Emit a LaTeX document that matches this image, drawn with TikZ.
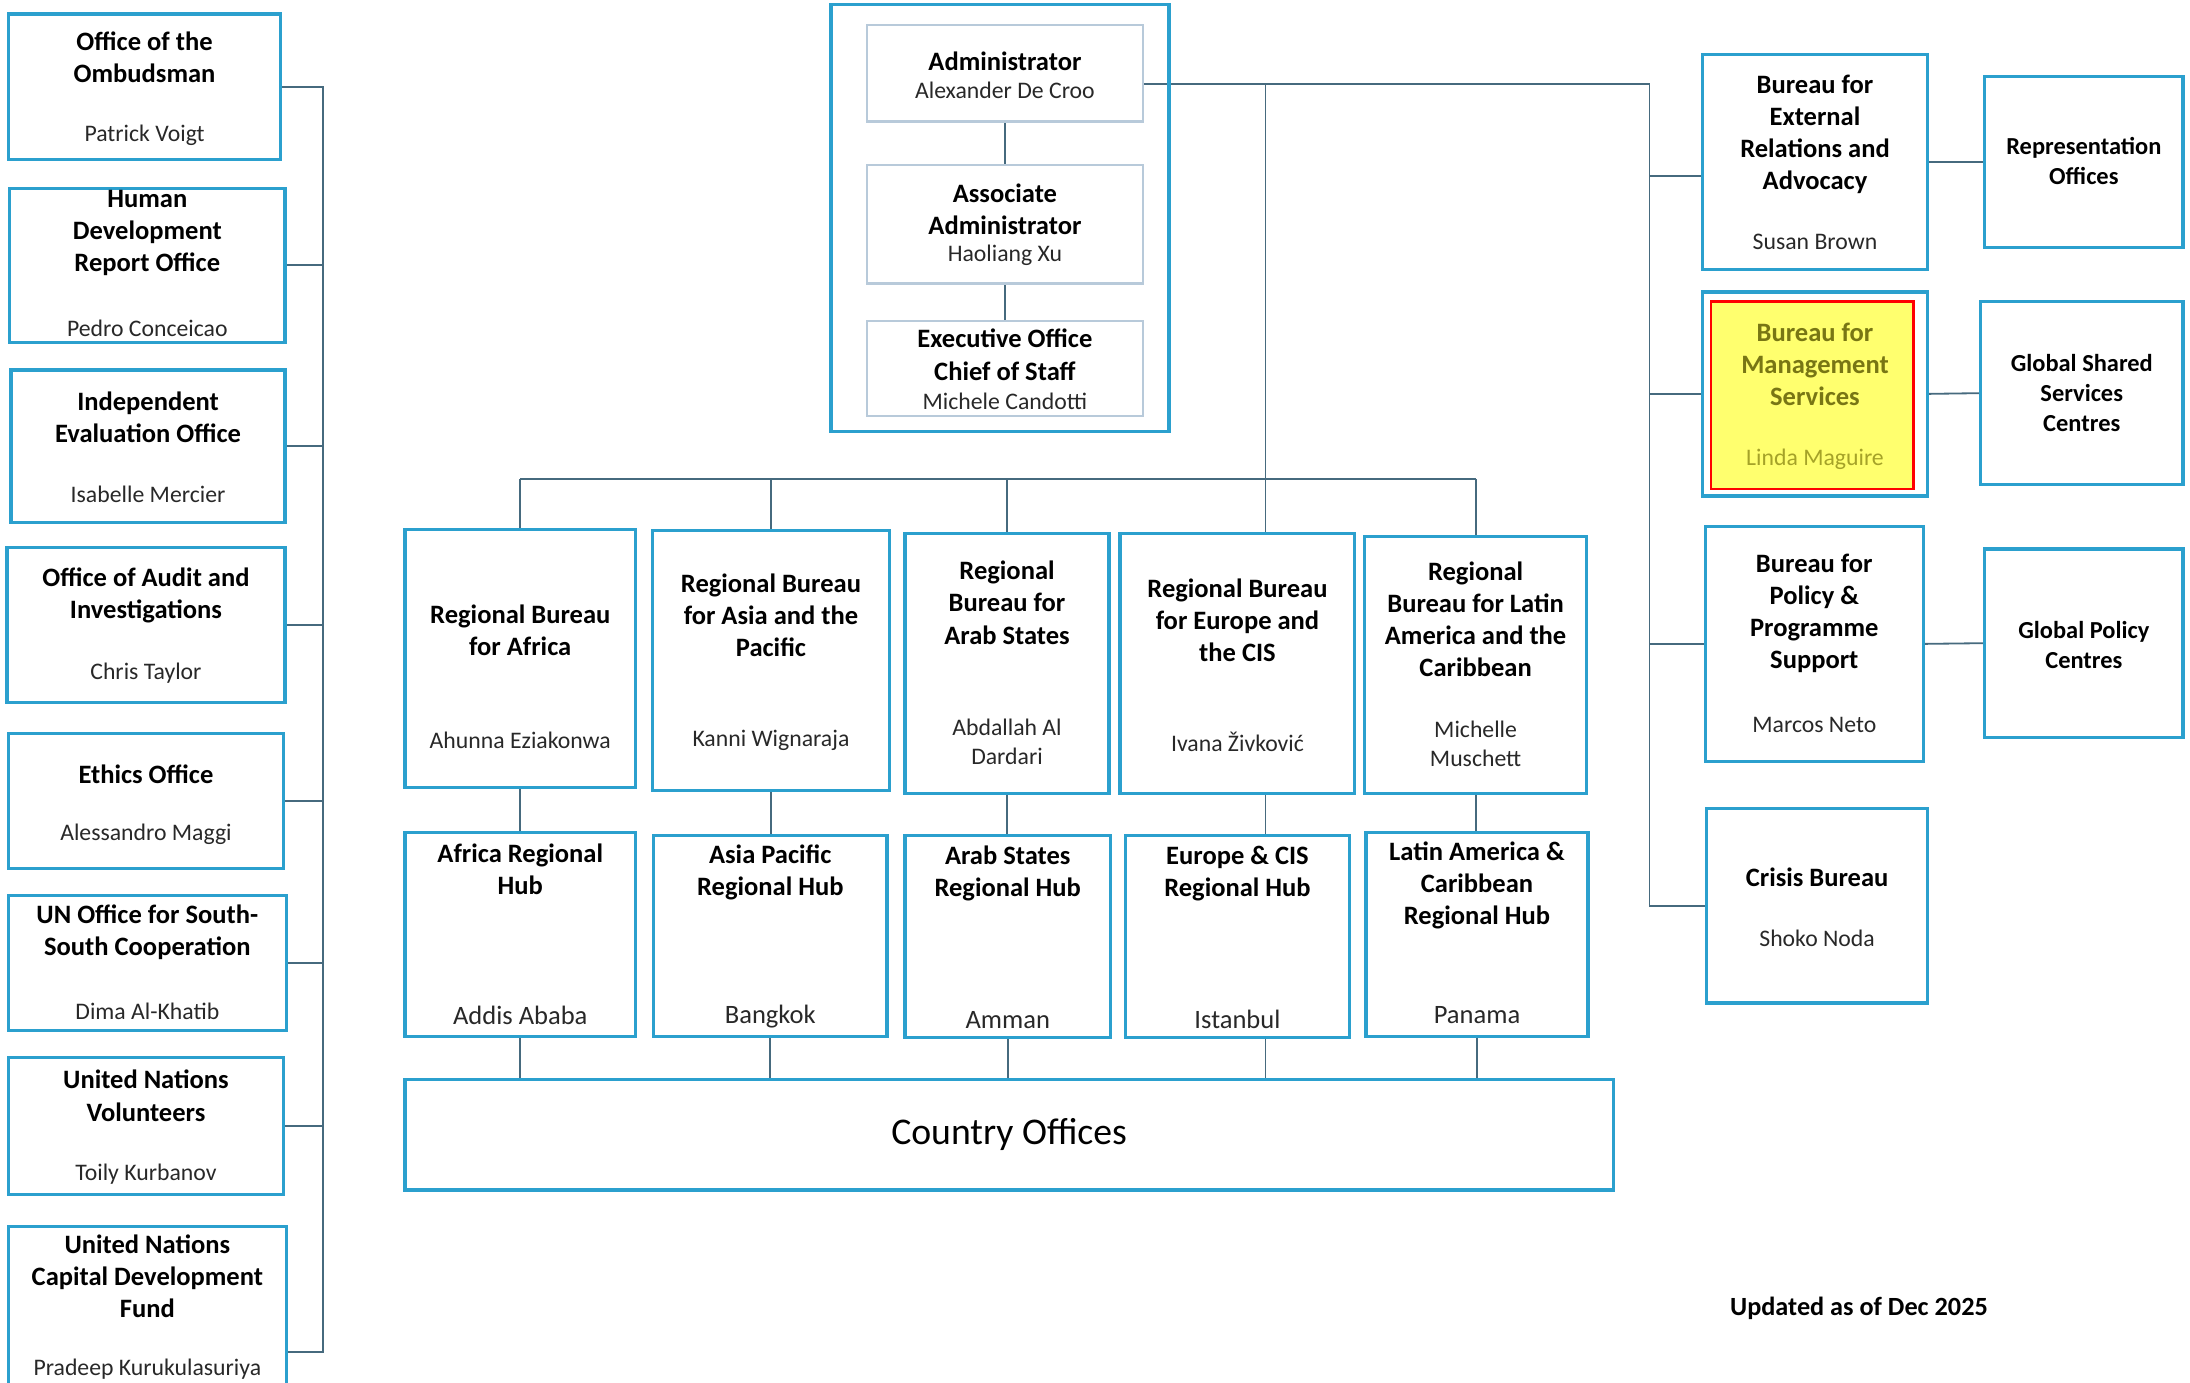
\documentclass[tikz,border=0pt]{standalone}
\usepackage{fontspec}
\setmainfont{Carlito}
\usetikzlibrary{backgrounds}

\definecolor{unblue}{RGB}{43,160,206}
\definecolor{linkgray}{RGB}{70,106,126}
\definecolor{paleblue}{RGB}{184,202,218}
\definecolor{hlyellow}{RGB}{255,255,110}
\definecolor{olivetext}{RGB}{120,118,20}
\definecolor{olivename}{RGB}{165,162,40}
\definecolor{namegray}{RGB}{40,40,40}

\begin{document}
\begin{tikzpicture}[x=1pt, y=-1pt,
  unit/.style={draw=unblue, line width=2.4pt, inner sep=0pt},
  inner/.style={draw=paleblue, line width=1.6pt, inner sep=0pt},
  sz/.style 2 args={minimum width=#1pt, minimum height=#2pt},
  link/.style={draw=linkgray, line width=1.3pt},
  ttl/.style={align=center, font=\bfseries\fontsize{19}{23}\selectfont},
  ttlsm/.style={align=center, font=\bfseries\fontsize{17.5}{21.5}\selectfont},
  who/.style={align=center, text=namegray, font=\fontsize{17}{20.5}\selectfont},
  city/.style={text=namegray, font=\fontsize{19}{23}\selectfont}]

  \useasboundingbox (0,0) rectangle (1568,990);

  % Left column: independent offices
  \node[unit, sz={195}{104}] (ombud) at (103.5,62) {};
  \node[ttl] (ombud-t) at (103.5,41) {Office of the\\Ombudsman};
  \node[who] (ombud-n) at (103.5,97) {Patrick Voigt};

  \node[unit, sz={197}{110}] (hdro) at (105.5,190) {};
  \node[ttl] (hdro-t) at (105.5,167) {Human\\Development\\Report Office};
  \node[who] (hdro-n) at (105.5,235) {Pedro Conceicao};

  \node[unit, sz={196}{109}] (ieo) at (106,319.5) {};
  \node[ttl] (ieo-t) at (106,298.5) {Independent\\Evaluation Office};
  \node[who] (ieo-n) at (106,354) {Isabelle Mercier};

  \node[unit, sz={199}{111}] (oai) at (104.5,447.5) {};
  \node[ttl] (oai-t) at (104.5,426.5) {Office of Audit and\\Investigations};
  \node[who] (oai-n) at (104.5,482) {Chris Taylor};

  \node[unit, sz={197}{97}] (ethics) at (104.5,573.5) {};
  \node[ttl] (ethics-t) at (104.5,554) {Ethics Office};
  \node[who] (ethics-n) at (104.5,597) {Alessandro Maggi};

  \node[unit, sz={199}{97}] (ssc) at (105.5,689.5) {};
  \node[ttl] (ssc-t) at (105.5,667.5) {UN Office for South-\\South Cooperation};
  \node[who] (ssc-n) at (105.5,724) {Dima Al-Khatib};

  \node[unit, sz={197}{98}] (unv) at (104.5,806) {};
  \node[ttl] (unv-t) at (104.5,784.5) {United Nations\\Volunteers};
  \node[who] (unv-n) at (104.5,841) {Toily Kurbanov};

  \node[unit, sz={199}{118}] (uncdf) at (105.5,937) {};
  \node[ttl] (uncdf-t) at (105.5,914) {United Nations\\Capital Development\\Fund};
  \node[who] (uncdf-n) at (105.5,980) {Pradeep Kurukulasuriya};

  % Executive office block
  \node[unit, sz={242}{306}] (execbox) at (716,156) {};
  \node[inner, sz={198}{69}] (admin) at (719.5,52.5) {};
  \node[ttl] (admin-t) at (719.5,44) {Administrator};
  \node[who] (admin-n) at (719.5,65) {Alexander De Croo};

  \node[inner, sz={198}{85}] (assoc) at (719.5,160.5) {};
  \node[ttl] (assoc-t) at (719.5,150) {Associate\\Administrator};
  \node[who] (assoc-n) at (719.5,183) {Haoliang Xu};

  \node[inner, sz={198}{68}] (eo) at (719.5,264) {};
  \node[ttl] (eo-t) at (719.5,254) {Executive Office\\Chief of Staff};
  \node[who] (eo-n) at (719.5,287) {Michele Candotti};

  % Regional bureaus
  \node[unit, sz={165}{185}] (rba) at (372.5,471.5) {};
  \node[ttl] (rba-t) at (372.5,451.5) {Regional Bureau\\for Africa};
  \node[who] (rba-n) at (372.5,530) {Ahunna Eziakonwa};

  \node[unit, sz={170}{186}] (rbap) at (552,473) {};
  \node[ttl] (rbap-t) at (552,440.5) {Regional Bureau\\for Asia and the\\Pacific};
  \node[who] (rbap-n) at (552,530) {Kanni Wignaraja};

  \node[unit, sz={146}{186}] (rbas) at (721,475) {};
  \node[ttl] (rbas-t) at (721,431.5) {Regional\\Bureau for\\Arab States};
  \node[who] (rbas-n) at (721,531) {Abdallah Al\\Dardari};

  \node[unit, sz={168}{186}] (rbec) at (886,475) {};
  \node[ttl] (rbec-t) at (886,444) {Regional Bureau\\for Europe and\\the CIS};
  \node[who] (rbec-n) at (886,531) {Ivana Živković};

  \node[unit, sz={159}{184}] (rblac) at (1056.5,476) {};
  \node[ttl] (rblac-t) at (1056.5,443.5) {Regional\\Bureau for Latin\\America and the\\Caribbean};
  \node[who] (rblac-n) at (1056.5,532.5) {Michelle\\Muschett};

  % Regional hubs
  \node[unit, sz={165}{146}] (hubaf) at (372.5,669) {};
  \node[ttl] (hubaf-t) at (372.5,622.5) {Africa Regional\\Hub};
  \node[city] (hubaf-n) at (372.5,727) {Addis Ababa};

  \node[unit, sz={167}{144}] (hubap) at (551.5,670) {};
  \node[ttl] (hubap-t) at (551.5,624.5) {Asia Pacific\\Regional Hub};
  \node[city] (hubap-n) at (551.5,728) {Bangkok};

  \node[unit, sz={147}{145}] (hubas) at (721.5,670.5) {};
  \node[ttl] (hubas-t) at (721.5,625.5) {Arab States\\Regional Hub};
  \node[city] (hubas-n) at (721.5,730) {Amman};

  \node[unit, sz={160}{145}] (hubec) at (886,670.5) {};
  \node[ttl] (hubec-t) at (886,625.5) {Europe \& CIS\\Regional Hub};
  \node[city] (hubec-n) at (886,730) {Istanbul};

  \node[unit, sz={159}{146}] (hublac) at (1057.5,669) {};
  \node[ttl] (hublac-t) at (1057.5,634) {Latin America \&\\Caribbean\\Regional Hub};
  \node[city] (hublac-n) at (1057.5,727) {Panama};

  \node[unit, sz={865}{79}, font=\fontsize{27}{32}\selectfont] (co) at (722.5,812.5) {Country Offices};

  % Right column: central bureaus
  \node[unit, sz={161}{154}] (bera) at (1299.5,116) {};
  \node[ttl] (bera-t) at (1299.5,96) {Bureau for\\External\\Relations and\\Advocacy};
  \node[who] (bera-n) at (1299.5,173) {Susan Brown};
  \node[unit, sz={142}{122}] (repr) at (1492,116) {};
  \node[ttlsm] (repr-t) at (1492,115.5) {Representation\\Offices};

  \node[unit, sz={161}{146}] (bms) at (1299.5,282) {};
  \node[draw=red, fill=hlyellow, line width=1.8pt, sz={145}{134}] (bms-mark) at (1297.5,283) {};
  \node[ttl, text=olivetext] (bms-t) at (1299.5,261) {Bureau for\\Management\\Services};
  \node[who, text=olivename] (bms-n) at (1299.5,329) {Linda Maguire};
  \node[unit, sz={145}{131}] (gssc) at (1490.5,281.5) {};
  \node[ttlsm] (gssc-t) at (1490.5,281.5) {Global Shared\\Services\\Centres};

  \node[unit, sz={156}{168}] (bpps) at (1299,461) {};
  \node[ttl] (bpps-t) at (1299,439) {Bureau for\\Policy \&\\Programme\\Support};
  \node[who] (bpps-n) at (1299,519) {Marcos Neto};
  \node[unit, sz={142}{135}] (gpc) at (1492,460.5) {};
  \node[ttlsm] (gpc-t) at (1492,461.5) {Global Policy\\Centres};

  \node[unit, sz={158}{139}] (crisis) at (1301,648.5) {};
  \node[ttl] (crisis-t) at (1301,628) {Crisis Bureau};
  \node[who] (crisis-n) at (1301,672) {Shoko Noda};

  \node[font=\bfseries\fontsize{18.8}{22}\selectfont] (stamp) at (1331,937) {Updated as of Dec 2025};

  % Connectors
  \coordinate (lbus) at (231,968);
  \coordinate (rtop) at (1181,60);
  \coordinate (rbtop) at (906,60);
  \coordinate (rbus) at (0,343);
  \coordinate (bera-in) at (1181,126);
  \begin{scope}[on background layer]
    \draw[link] (ombud.east) -| (lbus) -- (lbus -| uncdf.east);
    \foreach \n in {hdro,ieo,oai,ethics,ssc,unv}
      \draw[link] (\n.east) -- (\n.east -| lbus);

    \draw[link] (admin.south) -- (assoc.north);
    \draw[link] (assoc.south) -- (eo.north);

    \draw[link] (admin.east |- rtop) -- (rtop) |- (crisis.west);
    \draw[link] (bera-in) -- (bera-in -| bera.west);
    \foreach \n in {bms,bpps}
      \draw[link] (\n.west -| rtop) -- (\n.west);
    \draw[link] (bera.east) -- (repr.west);
    \draw[link] (bms.east) -- (gssc.west);
    \draw[link] (bpps.east) -- (gpc.west);

    \draw[link] (rbtop) -- (rbtop |- rbec.north);
    \draw[link] (rba.north |- rbus) -- (rblac.north |- rbus);
    \foreach \n in {rba,rbap,rbas,rblac}
      \draw[link] (\n.north) -- (\n.north |- rbus);

    \foreach \a/\b in {rba/hubaf,rbap/hubap,rbas/hubas,rblac/hublac}
      \draw[link] (\a.south) -- (\a.south |- \b.north);
    \draw[link] (rbec.south -| rbtop) -- (hubec.north -| rbtop);

    \foreach \b in {hubaf,hubap,hubas,hublac}
      \draw[link] (\b.south) -- (\b.south |- co.north);
    \draw[link] (hubec.south -| rbtop) -- (co.north -| rbtop);
  \end{scope}

\end{tikzpicture}
\end{document}
